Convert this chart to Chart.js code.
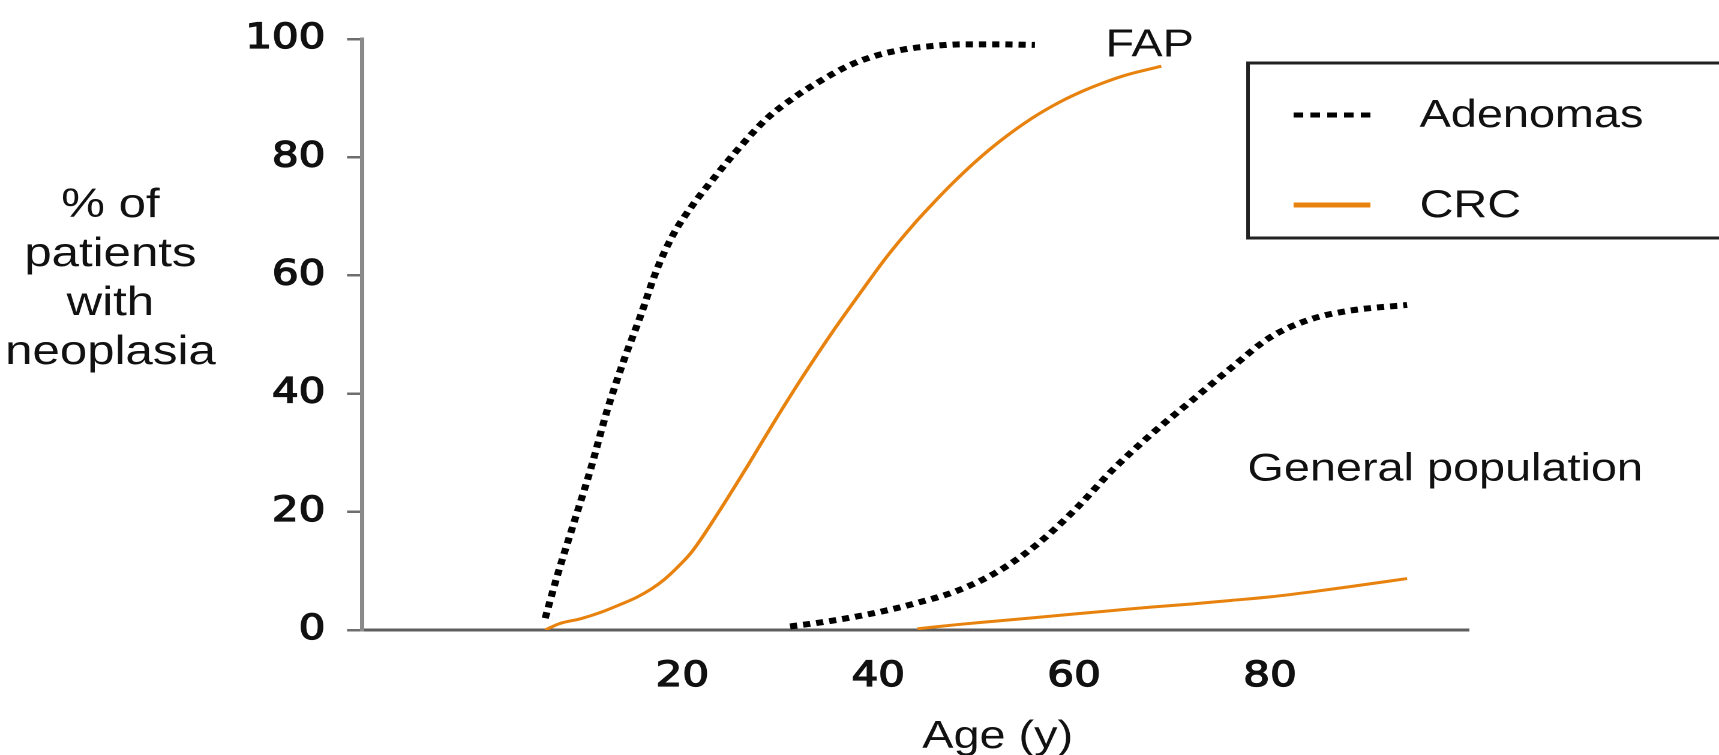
<!DOCTYPE html>
<html>
<head>
<meta charset="utf-8">
<script src="https://cdn.jsdelivr.net/npm/chart.js@4.4.1/dist/chart.umd.min.js"></script>
<style>
  html, body { margin: 0; padding: 0; background: #fff; overflow: hidden; }
  /* the source figure is stretched sideways, so the whole chart is too */
  #wrap { width: 1433px; height: 755px; transform: scaleX(1.2); transform-origin: 0 0; }
</style>
</head>
<body>
<div id="wrap"><canvas id="neoplasiaChart"></canvas></div>
<script>
// FAP patients
const fapAdenAge = [6, 7.2, 8.9, 10.6, 12.3, 14, 15.7, 17.4, 19.1, 21.1, 23, 25.5, 28.6, 31.5, 34.2, 37, 39.8, 42.5, 45.4, 48.7, 52, 56];
const fapAdenPct = [2, 9, 18, 27, 37, 45.5, 53, 61, 67, 72, 76, 81, 86.5, 90.2, 93, 95.5, 97.2, 98.2, 98.8, 99.1, 99.1, 99.0];
const fapCrcAge = [6, 7.5, 9.6, 11.7, 13.5, 15.3, 16.8, 18.2, 19.5, 21, 23.5, 26.6, 29.3, 32.3, 35.4, 38.5, 40.8, 43.6, 45.6, 47.6, 49.9, 52.5, 55.8, 58.5, 60.9, 63, 65.3, 68.9];
const fapCrcPct = [0, 1.1, 1.9, 3.0, 4.2, 5.5, 6.9, 8.6, 10.6, 13.3, 19.4, 27.6, 35.0, 42.9, 50.6, 57.8, 63.0, 68.6, 72.2, 75.6, 79.2, 82.8, 86.7, 89.3, 91.2, 92.6, 93.9, 95.4];

// general population
const genAdenAge = [31, 35, 40, 44, 48, 52, 56, 60, 64, 68, 72, 76, 80, 84, 88, 94];
const genAdenPct = [0.6, 1.5, 3, 4.6, 6.6, 9.7, 14.2, 20.2, 27.2, 33.3, 38.8, 44.3, 49.5, 52.5, 54, 55];
const genCrcAge = [44, 48, 52, 56, 60, 64, 68, 72, 76, 80, 84, 88, 94];
const genCrcPct = [0.2, 0.9, 1.5, 2.1, 2.7, 3.3, 3.9, 4.4, 5.0, 5.6, 6.4, 7.3, 8.7];

const ageTicks = [20, 40, 60, 80];
const pctTicks = [0, 20, 40, 60, 80, 100];
const seriesNames = ['Adenomas', 'CRC'];
const yTitleLines = ['% of', 'patients', 'with', 'neoplasia'];
const xTitle = 'Age (y)';

const ORANGE = '#e8820e';
const TEXT_FONT = '39px "Liberation Sans", Arial, sans-serif';
const YTITLE_FONT = '41px "Liberation Sans", Arial, sans-serif';
const TICK_FONT = { family: '"DejaVu Sans", Verdana, sans-serif', size: 35, weight: 'normal' };

function toPoints(xs, ys) {
  return xs.map((x, i) => ({ x: x, y: ys[i] }));
}

const adenStyle = { borderColor: '#000', borderWidth: 6, borderDash: [6, 5], borderCapStyle: 'butt' };
const crcStyle = { borderColor: ORANGE, borderWidth: 3 };

// labels, legend and the two group names
const figureText = {
  id: 'figureText',
  afterDraw(chart) {
    const ctx = chart.ctx;
    const xs = chart.scales.x, ys = chart.scales.y;
    ctx.save();
    ctx.fillStyle = '#111';
    ctx.textBaseline = 'alphabetic';

    ctx.textAlign = 'center';
    ctx.font = YTITLE_FONT;
    yTitleLines.forEach((t, i) => ctx.fillText(t, 92, 217 + i * 49));
    ctx.font = TEXT_FONT;
    ctx.fillText(xTitle, xs.getPixelForValue(52.2), 748);

    ctx.textAlign = 'left';
    ctx.fillText('FAP', xs.getPixelForValue(63.2), ys.getPixelForValue(97));
    ctx.fillText('General population', xs.getPixelForValue(77.7), ys.getPixelForValue(25.3));

    // legend box runs off the right edge like in the source
    ctx.lineWidth = 3;
    ctx.strokeStyle = '#222';
    ctx.strokeRect(1040, 63, 500, 175);

    const ds = chart.data.datasets;
    const rows = [127, 217];
    [ds[0], ds[1]].forEach((d, i) => {
      const ly = rows[i] - 12;
      ctx.beginPath();
      ctx.strokeStyle = d.borderColor;
      ctx.lineWidth = 5;
      ctx.setLineDash(i === 0 ? [8, 6] : []);
      ctx.moveTo(1078, ly);
      ctx.lineTo(1142, ly);
      ctx.stroke();
      ctx.setLineDash([]);
      ctx.fillText(seriesNames[i], 1183, rows[i]);
    });
    ctx.restore();
  }
};

const ctx = document.getElementById('neoplasiaChart').getContext('2d');
new Chart(ctx, {
  type: 'line',
  data: {
    datasets: [
      { label: 'FAP adenomas', data: toPoints(fapAdenAge, fapAdenPct), ...adenStyle },
      { label: 'FAP CRC', data: toPoints(fapCrcAge, fapCrcPct), ...crcStyle },
      { label: 'General adenomas', data: toPoints(genAdenAge, genAdenPct), ...adenStyle },
      { label: 'General CRC', data: toPoints(genCrcAge, genCrcPct), ...crcStyle }
    ]
  },
  options: {
    responsive: true,
    maintainAspectRatio: false,
    animation: false,
    devicePixelRatio: 2,
    layout: { padding: { left: 0, top: 30, right: 209, bottom: 0 } },
    elements: {
      point: { radius: 0 },
      line: { cubicInterpolationMode: 'monotone', fill: false }
    },
    plugins: { legend: { display: false }, tooltip: { enabled: false } },
    scales: {
      x: {
        type: 'linear',
        min: -12.7,
        max: 100.3,
        afterBuildTicks: (scale) => { scale.ticks = ageTicks.map(v => ({ value: v })); },
        afterFit: (scale) => { scale.height = 125; },
        grid: { display: true, drawOnChartArea: false, drawTicks: false },
        border: { display: true, color: '#5e5e5e', width: 3 },
        ticks: { color: '#111', font: TICK_FONT, padding: 26, maxRotation: 0, textStrokeColor: '#111', textStrokeWidth: 1.3 }
      },
      y: {
        min: 0,
        max: 100,
        afterBuildTicks: (scale) => { scale.ticks = pctTicks.map(v => ({ value: v })); },
        afterFit: (scale) => { scale.width = 301.7; },
        grid: { drawOnChartArea: false, drawTicks: true, tickLength: 12.5, color: '#6e6e6e', lineWidth: 2.5 },
        border: { display: true, color: '#8a8a8a', width: 3.5 },
        ticks: { color: '#111', font: TICK_FONT, padding: 18, textStrokeColor: '#111', textStrokeWidth: 1.3 }
      }
    }
  },
  plugins: [figureText]
});
</script>
</body>
</html>
